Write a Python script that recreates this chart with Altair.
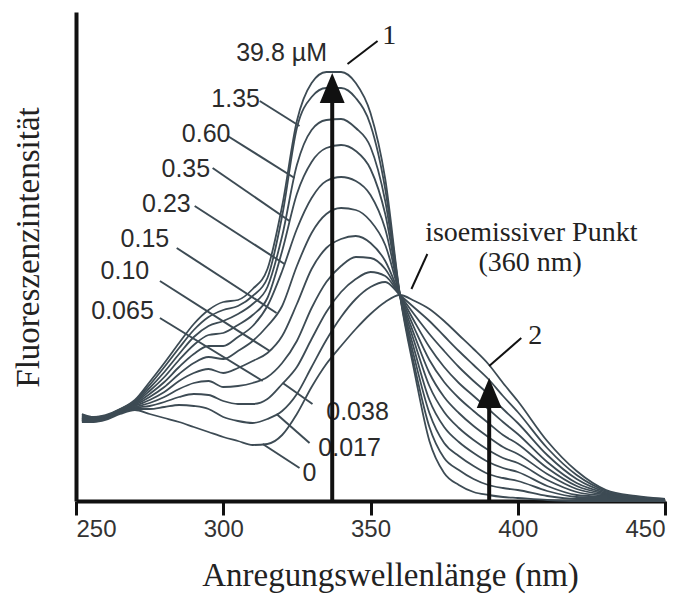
import altair as alt
import pandas as pd

# excitation wavelength grid (nm)
wl = [252, 256, 260, 265, 270, 275, 280, 285, 290, 295,
      300, 305, 310, 315, 320, 325, 330, 335, 340, 345,
      350, 355, 360, 365, 370, 375, 380, 385, 390, 395,
      400, 410, 420, 430, 440, 450]

# fluorescence intensity (a.u.) per concentration
c_0 = [79, 79, 81, 87, 91, 87, 83, 79, 74, 69, 64, 60, 56, 57, 66, 87, 114, 137, 155, 172,
       187, 199, 206, 200, 192, 180, 166, 152, 137, 118, 100, 60, 30, 11, 5, 2]
c_0017 = [80, 80, 82, 88, 92, 92, 94, 96, 95, 92, 84, 80, 78, 82, 90, 107, 134, 161, 184, 202,
          214, 219, 206, 193, 180, 165, 150, 136, 122, 105, 89, 53, 26, 10, 4, 2]
c_0038 = [81, 80, 82, 88, 93, 95, 99, 104, 107, 106, 100, 97, 97, 102, 117, 134, 162, 189, 209, 222,
          229, 225, 206, 186, 167, 150, 134, 120, 107, 92, 78, 46, 22, 9, 4, 1]
c_0065 = [81, 81, 83, 89, 94, 98, 104, 112, 118, 120, 114, 115, 118, 124, 138, 160, 193, 219, 235, 244,
          243, 232, 206, 179, 154, 134, 118, 105, 92, 79, 67, 39, 18, 8, 3, 1]
c_010 = [82, 81, 83, 89, 95, 101, 109, 120, 128, 132, 128, 133, 140, 148, 165, 197, 232, 253, 262, 265,
         258, 240, 206, 172, 141, 119, 103, 90, 78, 66, 57, 33, 15, 7, 3, 1]
c_015 = [83, 82, 84, 90, 96, 104, 114, 127, 138, 144, 142, 150, 160, 175, 195, 235, 268, 287, 293, 291,
         280, 256, 206, 165, 128, 104, 88, 75, 64, 54, 47, 27, 12, 6, 2, 1]
c_023 = [83, 82, 84, 90, 97, 107, 119, 134, 147, 155, 155, 164, 175, 195, 230, 272, 303, 320, 324, 320,
         306, 272, 206, 158, 115, 89, 73, 61, 51, 43, 38, 21, 9, 5, 2, 1]
c_035 = [84, 83, 84, 91, 98, 110, 124, 141, 156, 166, 168, 176, 186, 203, 250, 307, 339, 353, 356, 350,
         332, 287, 206, 150, 101, 74, 59, 48, 39, 33, 29, 15, 6, 4, 1, 0]
c_060 = [85, 83, 85, 91, 99, 113, 129, 147, 164, 175, 180, 187, 197, 214, 265, 336, 371, 381, 382, 373,
         354, 300, 206, 142, 88, 58, 45, 35, 27, 23, 20, 10, 4, 3, 1, 0]
c_135 = [86, 84, 85, 92, 100, 116, 134, 153, 171, 184, 191, 195, 205, 223, 285, 373, 404, 413, 413, 403,
         376, 312, 206, 134, 74, 43, 31, 22, 16, 13, 11, 5, 2, 2, 0, 0]
c_398 = [87, 84, 86, 92, 101, 119, 138, 158, 177, 191, 199, 201, 212, 232, 295, 380, 418, 429, 429, 418,
         388, 322, 206, 128, 60, 28, 16, 9, 6, 4, 3, 1, 0, 0, 0, 0]

series = {"0": c_0, "0.017": c_0017, "0.038": c_0038, "0.065": c_0065, "0.10": c_010,
          "0.15": c_015, "0.23": c_023, "0.35": c_035, "0.60": c_060, "1.35": c_135,
          "39.8": c_398}

# concentration labels and their leader lines
lab_text = ["39.8 µM", "1.35", "0.60", "0.35", "0.23", "0.15", "0.10", "0.065", "0.038", "0.017", "0"]
lab_x = [319.8, 304.2, 294.2, 287.3, 280.7, 273.4, 266.6, 265.8, 345.6, 342.9, 329.3]
lab_y = [448, 402, 367, 332, 297, 262, 230, 190, 89, 53, 28]

lead_x1 = [312.4, 301.5, 296.4, 290.3, 284.2, 278.5, 278.5, 330.3, 329.3, 325.9]
lead_y1 = [400, 365, 333, 295, 253, 220, 183, 97, 58, 33]
lead_x2 = [325.9, 324.2, 322.5, 320.8, 318.1, 315.8, 313.4, 320.2, 318.1, 313.4]
lead_y2 = [375, 323, 280, 237, 188, 150, 120, 118, 87, 57]

# callouts (serif)
note_text = ["1", "2", "isoemissiver Punkt", "(360 nm)"]
note_x = [356.4, 405.9, 404.6, 404.2]
note_y = [465, 165, 268, 238]
call_x1 = [342.2, 390.3, 363.9]
call_y1 = [437, 135, 212]
call_x2 = [352.4, 401.2, 369.3]
call_y2 = [460, 163, 247]

# arrows
arrow_x = [337, 390.3]
arrow_tip = [428, 123]
arrow_shaft_end = [405, 100]

rows = []
for name, vals in series.items():
    for w, v in zip(wl, vals):
        rows.append({"wl": w, "I": v, "conc": name})
df = pd.DataFrame(rows)

df_lab = pd.DataFrame({"t": lab_text, "x": lab_x, "y": lab_y})
df_lead = pd.DataFrame({"x": lead_x1, "y": lead_y1, "x2": lead_x2, "y2": lead_y2})
df_note = pd.DataFrame({"t": note_text, "x": note_x, "y": note_y})
df_call = pd.DataFrame({"x": call_x1, "y": call_y1, "x2": call_x2, "y2": call_y2})
df_arrow = pd.DataFrame({"x": arrow_x, "tip": arrow_tip, "end": arrow_shaft_end, "zero": [0, 0]})

xs = alt.Scale(domain=[250, 450], nice=False, zero=False)
ys = alt.Scale(domain=[0, 489], nice=False, zero=True)

curve_col = "#3d4b54"

curves = alt.Chart(df).mark_line(interpolate="monotone", strokeWidth=1.8, color=curve_col).encode(
    x=alt.X("wl:Q", scale=xs, axis=alt.Axis(
        values=[250, 300, 350, 400, 450], tickSize=14, tickWidth=3, tickColor="#111",
        domainColor="#111", domainWidth=4, labelFont="Liberation Sans", labelFontSize=24,
        labelColor="#333", labelPadding=2, grid=False,
        title="Anregungswellenlänge (nm)", titleFont="Liberation Serif", titleFontSize=33,
        titleFontWeight="normal", titleColor="#222", titlePadding=18,
        titleX=314, titleAlign="center")),
    y=alt.Y("I:Q", scale=ys, axis=alt.Axis(
        labels=False, ticks=False, domainColor="#111", domainWidth=4, grid=False,
        title="Fluoreszenzintensität", titleFont="Liberation Serif", titleFontSize=33,
        titleFontWeight="normal", titleColor="#222", titlePadding=31,
        titleY=235, titleAlign="center")),
    detail="conc:N",
)

leads = alt.Chart(df_lead).mark_rule(strokeWidth=2, color=curve_col).encode(
    x=alt.X("x:Q", scale=xs), y=alt.Y("y:Q", scale=ys), x2="x2:Q", y2="y2:Q")

calls = alt.Chart(df_call).mark_rule(strokeWidth=2, color="#111").encode(
    x=alt.X("x:Q", scale=xs), y=alt.Y("y:Q", scale=ys), x2="x2:Q", y2="y2:Q")

labels = alt.Chart(df_lab).mark_text(font="Liberation Sans", fontSize=25, color="#2b2b2b",
                                     align="center", baseline="middle").encode(
    x=alt.X("x:Q", scale=xs), y=alt.Y("y:Q", scale=ys), text="t:N")

notes = alt.Chart(df_note).mark_text(font="Liberation Serif", fontSize=28, color="#222",
                                     align="center", baseline="middle").encode(
    x=alt.X("x:Q", scale=xs), y=alt.Y("y:Q", scale=ys), text="t:N")

shafts = alt.Chart(df_arrow).mark_rule(strokeWidth=4, color="#111").encode(
    x=alt.X("x:Q", scale=xs), y=alt.Y("zero:Q", scale=ys), y2="end:Q")

heads = alt.Chart(df_arrow).mark_point(shape="M0,0L0.83,2L-0.83,2Z", size=900, filled=True,
                                       opacity=1, color="#111", strokeWidth=0).encode(
    x=alt.X("x:Q", scale=xs), y=alt.Y("tip:Q", scale=ys))

chart = alt.layer(curves, leads, calls, labels, notes, shafts, heads).properties(
    width=589, height=489,
    background="white",
    autosize=alt.AutoSizeParams(type="none"),
    padding={"left": 68, "top": 4, "right": 20, "bottom": 98},
).configure_view(stroke=None)

chart.save("out.html", embed_options={"renderer": "svg", "actions": False})
